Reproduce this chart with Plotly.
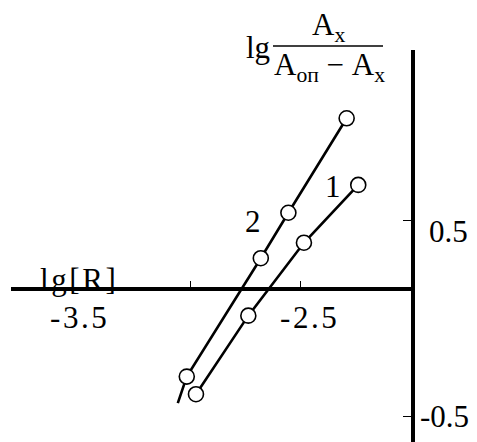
import plotly.graph_objects as go

W, H = 477, 442
OFF = 8  # the page body has an 8 px margin

# lg[R] and lg(Ax / (Aоп - Ax))
lgR_1 = [-2.975, -2.736, -2.482, -2.234]
lgA_1 = [-0.389, 0.012, 0.384, 0.679]
lgR_2 = [-3.017, -2.679, -2.553, -2.287]
lgA_2 = [-0.299, 0.305, 0.537, 1.019]

# line 2 runs on a little past its lowest point
tail_R_2 = [-3.058]
tail_A_2 = [-0.434]

x_tick_vals = [-3.0, -2.5]
x_label_vals = [-3.5, -2.5]
x_label_text = ["-3.5", "-2.5"]
y_tick_vals = [0.5, -0.5]
y_tick_text = ["0.5", "-0.5"]

FONT = "Liberation Serif"
FS = 31
HAIR = "\u200a"


def spaced(s):
    return HAIR.join(s)


def px(x, y):
    # screen pixel -> paper coordinates (margins are zero)
    return (x - OFF) / W, 1 - (y - OFF) / H


fig = go.Figure()

# the two lines
fig.add_trace(go.Scatter(x=lgR_1, y=lgA_1, mode="lines",
                         line=dict(color="black", width=2.6),
                         hoverinfo="skip", showlegend=False))
fig.add_trace(go.Scatter(x=tail_R_2 + lgR_2, y=tail_A_2 + lgA_2, mode="lines",
                         line=dict(color="black", width=2.6),
                         hoverinfo="skip", showlegend=False))

# open circles on top
for xs, ys in [(lgR_1, lgA_1), (lgR_2, lgA_2)]:
    fig.add_trace(go.Scatter(
        x=xs, y=ys, mode="markers", cliponaxis=False,
        marker=dict(symbol="circle", size=15, color="white",
                    line=dict(color="black", width=1.6)),
        showlegend=False))

# axes: -3.0 sits at screen x 190.5, -2.5 at 300; 0.5 at screen y 220, -0.5 at 416
x_per_px = 0.5 / 109.5
y_per_px = 1.0 / 196.0
x_dom = [px(11, 0)[0], px(411, 0)[0]]
y_dom = [0, px(0, 50)[1]]
x_range = [-2.5 + (11 - 300) * x_per_px, -2.5 + (411 - 300) * x_per_px]
y_range = [0.5 - (H + OFF - 220) * y_per_px, 0.5 + (220 - 50) * y_per_px]

fig.update_layout(
    width=W, height=H,
    margin=dict(l=0, r=0, t=0, b=0),
    paper_bgcolor="white", plot_bgcolor="white",
    font=dict(family=FONT, size=FS, color="black"),
    xaxis=dict(domain=x_dom, range=x_range, anchor="free", position=px(0, 289)[1],
               showgrid=False, zeroline=False, showline=True,
               linecolor="black", linewidth=3.5,
               tickvals=x_tick_vals, ticks="inside", ticklen=6, tickwidth=1,
               tickcolor="black", showticklabels=False),
    yaxis=dict(domain=y_dom, range=y_range, anchor="x", side="right",
               showgrid=False, zeroline=False, showline=True,
               linecolor="black", linewidth=4,
               tickvals=y_tick_vals, ticks="inside", ticklen=8, tickwidth=1.2,
               tickcolor="black", showticklabels=False),
)

ann = []
# x tick labels
for v, t, sh in zip(x_label_vals, x_label_text, [-3, 8]):
    ann.append(dict(x=v, xref="x", y=px(0, 317)[1], yref="paper", text=spaced(t),
                    showarrow=False, xshift=sh, xanchor="center", yanchor="middle"))
# y tick labels
for v, t, (cx, sh) in zip(y_tick_vals, y_tick_text, [(448, -11), (444, 0)]):
    ann.append(dict(x=px(cx, 0)[0], xref="paper", y=v, yref="y", text=t,
                    showarrow=False, yshift=sh, xanchor="center", yanchor="middle"))

# axis names
ax, ay = px(78, 279)
ann.append(dict(x=ax, y=ay, xref="paper", yref="paper", text=spaced("lg[R]"),
                showarrow=False, xanchor="center", yanchor="middle"))
for txt, (cx, cy) in [("lg", (258, 47)),
                      ("A<sub>x</sub>", (328, 27)),
                      ("A<sub>оп</sub> − A<sub>x</sub>", (329, 67))]:
    ax, ay = px(cx, cy)
    ann.append(dict(x=ax, y=ay, xref="paper", yref="paper", text=txt,
                    showarrow=False, xanchor="center", yanchor="middle"))

# curve numbers
ann.append(dict(x=lgR_1[-1], y=lgA_1[-1], text="1", showarrow=False,
                xshift=-25, yshift=-2))
ann.append(dict(x=lgR_2[1], y=lgA_2[1], text="2", showarrow=False,
                xshift=-8, yshift=37))
fig.update_layout(annotations=ann)

# fraction bar
x0, yb = px(273, 46)
x1, _ = px(383, 46)
fig.add_shape(type="line", xref="paper", yref="paper", x0=x0, x1=x1, y0=yb, y1=yb,
              line=dict(color="black", width=1.5))

fig.write_html("out.html")
